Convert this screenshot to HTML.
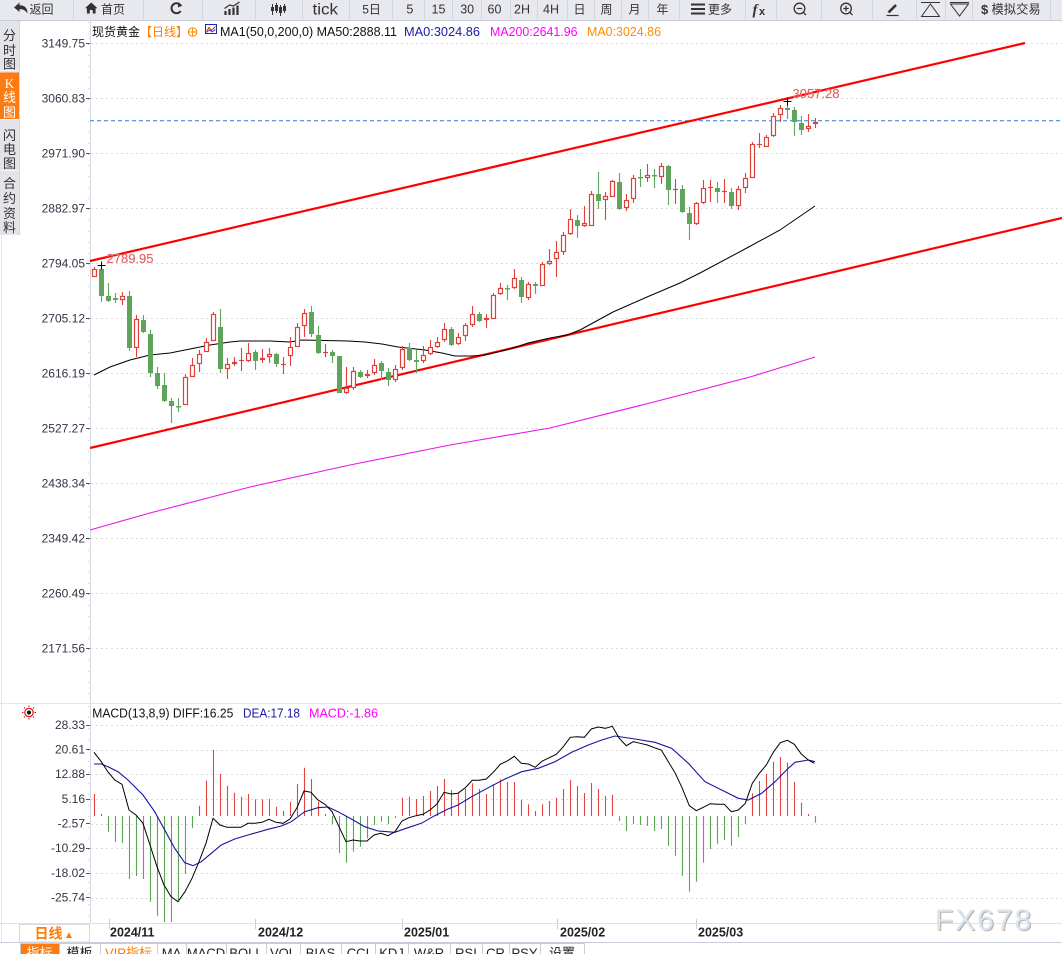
<!DOCTYPE html>
<html><head><meta charset="utf-8">
<style>
html,body{margin:0;padding:0;background:#fff;}
body{width:1062px;height:954px;overflow:hidden;position:relative;}
svg{position:absolute;left:0;top:0;}
</style></head><body>
<svg id="c" width="1062" height="954" viewBox="0 0 1062 954" font-family="'Liberation Sans','Noto Sans CJK SC',sans-serif">
<rect x="0" y="0" width="1062" height="954" fill="#fff"/>
<!-- toolbar -->
<rect x="0" y="0" width="1062" height="20.5" fill="#e8e9ee"/>
<line x1="0" y1="20.5" x2="1062" y2="20.5" stroke="#c9ccd4"/>
<g stroke="#d2d5dc" shape-rendering="crispEdges">
<line x1="73.5" y1="0" x2="73.5" y2="20"/><line x1="143.5" y1="0" x2="143.5" y2="20"/><line x1="202.5" y1="0" x2="202.5" y2="20"/><line x1="255.5" y1="0" x2="255.5" y2="20"/><line x1="302.5" y1="0" x2="302.5" y2="20"/><line x1="349.5" y1="0" x2="349.5" y2="20"/><line x1="392.5" y1="0" x2="392.5" y2="20"/><line x1="424.5" y1="0" x2="424.5" y2="20"/><line x1="452.5" y1="0" x2="452.5" y2="20"/><line x1="481.5" y1="0" x2="481.5" y2="20"/><line x1="510.5" y1="0" x2="510.5" y2="20"/><line x1="537.5" y1="0" x2="537.5" y2="20"/><line x1="567.5" y1="0" x2="567.5" y2="20"/><line x1="594.5" y1="0" x2="594.5" y2="20"/><line x1="621.5" y1="0" x2="621.5" y2="20"/><line x1="648.5" y1="0" x2="648.5" y2="20"/><line x1="679.5" y1="0" x2="679.5" y2="20"/><line x1="745.5" y1="0" x2="745.5" y2="20"/><line x1="776.5" y1="0" x2="776.5" y2="20"/><line x1="821.5" y1="0" x2="821.5" y2="20"/><line x1="872.5" y1="0" x2="872.5" y2="20"/><line x1="916.5" y1="0" x2="916.5" y2="20"/><line x1="945.5" y1="0" x2="945.5" y2="20"/><line x1="972.5" y1="0" x2="972.5" y2="20"/><line x1="1050.5" y1="0" x2="1050.5" y2="20"/>
</g>
<g fill="#333" font-size="12.5">
<path d="M14 7.5 L19.5 2.5 V5.2 Q27.5 5.2 27.5 13.5 Q24.5 8.8 19.5 9.2 V12 Z" fill="#333"/>
<text x="29.5" y="13.5" font-size="12">返回</text>
<path d="M91.2 2.5 L97.5 8.3 H95.6 V13.5 H92.7 V10 H89.8 V13.5 H86.9 V8.3 H85 Z" fill="#333"/>
<text x="101" y="13.5" font-size="12">首页</text>
<text x="325.3" y="14.5" font-size="16" text-anchor="middle" textLength="25.5" lengthAdjust="spacingAndGlyphs">tick</text>
<text x="371.6" y="13.5" text-anchor="middle" font-size="12">5日</text>
<text x="409.8" y="13.5" text-anchor="middle">5</text>
<text x="438.5" y="13.5" text-anchor="middle">15</text>
<text x="467.2" y="13.5" text-anchor="middle">30</text>
<text x="494.5" y="13.5" text-anchor="middle">60</text>
<text x="522" y="13.5" text-anchor="middle">2H</text>
<text x="551" y="13.5" text-anchor="middle">4H</text>
<text x="579.5" y="13.5" text-anchor="middle" font-size="12">日</text>
<text x="606.5" y="13.5" text-anchor="middle" font-size="12">周</text>
<text x="634.5" y="13.5" text-anchor="middle" font-size="12">月</text>
<text x="662.5" y="13.5" text-anchor="middle" font-size="12">年</text>
<rect x="691" y="3.5" width="14" height="2" fill="#333"/><rect x="691" y="8" width="14" height="2" fill="#333"/><rect x="691" y="12.5" width="14" height="2" fill="#333"/>
<text x="708" y="13.5" font-size="12">更多</text>
<text x="752.5" y="14.5" font-size="15" font-weight="bold" font-style="italic" font-family="'Liberation Serif',serif">f</text>
<text x="759" y="15" font-size="11" font-weight="bold">x</text>
<text x="981" y="14" font-size="13" font-weight="bold">$</text>
<text x="991.5" y="13.5" font-size="12.3">模拟交易</text>
</g>
<!-- toolbar icons -->
<g fill="none" stroke="#333">
<path d="M180.5 5.2 A5 5 0 1 0 180.7 11" stroke-width="2"/>
<path d="M178 2.5 L182.5 5.5 L178 7.5 Z" fill="#333" stroke="none"/>
<path d="M225.5 15V11M229.5 15V9M233.5 15V7.5M237.5 15V5.5" stroke-width="2.2"/>
<path d="M224.5 8.5 L229.5 5 L233.5 6 L239.5 2" stroke-width="1.2"/>
<path d="M272.5 4V15M276.5 3V13M280.5 5V16M284.5 4V13" stroke-width="1"/>
<rect x="271" y="7" width="3" height="4" fill="#333" stroke="none"/><rect x="275" y="5" width="3" height="6" fill="#333" stroke="none"/><rect x="279" y="7" width="3" height="6" fill="#333" stroke="none"/><rect x="283" y="6" width="3" height="5" fill="#333" stroke="none"/>
<circle cx="799.5" cy="8.5" r="5.3" stroke-width="1.3"/><path d="M796.8 8.5H802.2M803.3 12.3L806 15" stroke-width="1.3"/>
<circle cx="846" cy="8.5" r="5.3" stroke-width="1.3"/><path d="M843.3 8.5H848.7M846 5.8V11.2M849.8 12.3L852.5 15" stroke-width="1.3"/>
<path d="M888.5 12.5L896 5" stroke-width="2.6"/><path d="M886.5 15.5H898.5" stroke-width="1.2"/>
<path d="M921 2.5H940M930.4 4 L921.5 16.5 H939.5 Z" stroke-width="1"/>
<path d="M950 2.5H969M950.5 4 H968.5 L959.5 16 Z" stroke-width="1"/>
</g>
<!-- sidebar -->
<rect x="0" y="21" width="19" height="214" fill="#e2e4ea"/>
<rect x="0" y="72.5" width="19" height="46.5" fill="#fb7b14"/>
<g stroke="#f4f5f8"><line x1="0" y1="70.5" x2="19" y2="70.5"/><line x1="0" y1="119.5" x2="19" y2="119.5"/><line x1="0" y1="170.5" x2="19" y2="170.5"/></g>
<line x1="19.5" y1="21" x2="19.5" y2="235" stroke="#d3d6dd"/>
<line x1="1.5" y1="235" x2="1.5" y2="942" stroke="#e3e5ea"/>
<g font-size="13" text-anchor="middle" fill="#333">
<text x="9.5" y="39.8">分</text><text x="9.5" y="54.8">时</text><text x="9.5" y="68.3">图</text>
<text x="9.5" y="87.8" fill="#fff" font-family="'Liberation Serif',serif">K</text><text x="9.5" y="101.8" fill="#fff">线</text><text x="9.5" y="116.8" fill="#fff">图</text>
<text x="9.5" y="139.8">闪</text><text x="9.5" y="153.8">电</text><text x="9.5" y="167.8">图</text>
<text x="9.5" y="187.8">合</text><text x="9.5" y="202.8">约</text><text x="9.5" y="217.8">资</text><text x="9.5" y="231.8">料</text>
</g>
<!-- legend -->
<text x="92" y="36" font-size="12" fill="#111">现货黄金</text>
<text x="140" y="36" font-size="12" fill="#ff7f00">【日线】</text>
<circle cx="192.6" cy="32" r="4.3" fill="none" stroke="#ff8a00" stroke-width="1"/>
<path d="M188.3 32H196.9M192.6 27.7V36.3" stroke="#ff8a00" stroke-width="1"/>
<rect x="205.5" y="24.5" width="11" height="9" fill="#fff" stroke="#1a2aa8"/>
<path d="M206.5 31.5L209 27.5L211.5 30.5L215.5 26.5" stroke="#e02020" fill="none" stroke-width="1"/>
<path d="M206.5 32.5L209.5 30L212 32L215.5 29.5" stroke="#1a2aa8" fill="none" stroke-width="0.8"/>
<g font-size="12.5">
<text x="220" y="36" fill="#111" textLength="177" lengthAdjust="spacingAndGlyphs">MA1(50,0,200,0) MA50:2888.11</text>
<text x="404" y="36" fill="#1a1aa8" textLength="76" lengthAdjust="spacingAndGlyphs">MA0:3024.86</text>
<text x="490" y="36" fill="#ff00ff" textLength="87.5" lengthAdjust="spacingAndGlyphs">MA200:2641.96</text>
<text x="587" y="36" fill="#ff8c00" textLength="74" lengthAdjust="spacingAndGlyphs">MA0:3024.86</text>
</g>
<!-- grids -->
<g id="grid" stroke="#dcdcdc" stroke-dasharray="2 3" shape-rendering="crispEdges"></g>
<!-- axis -->
<line x1="90.5" y1="21" x2="90.5" y2="923" stroke="#d3d7df" shape-rendering="crispEdges"/>
<line x1="88.5" y1="22" x2="88.5" y2="700" stroke="#c8ccd4" stroke-dasharray="1 10" shape-rendering="crispEdges"/>
<line x1="88.5" y1="706" x2="88.5" y2="920" stroke="#c8ccd4" stroke-dasharray="1 10" shape-rendering="crispEdges"/>
<line x1="0" y1="703.5" x2="1062" y2="703.5" stroke="#e3e6eb" shape-rendering="crispEdges"/>
<g id="ylab" font-size="12" fill="#2f3645" text-anchor="end"></g>
<!-- blue dashed line -->
<line x1="90" y1="120.7" x2="1062" y2="120.7" stroke="#2a7bd8" stroke-dasharray="4 3" stroke-width="1"/>
<!-- MA200 -->
<polyline fill="none" stroke="#e818e8" stroke-width="1.1" points="90,530 150,513 250,487 350,465 450,445 550,428 650,403 750,377 815,357"/>
<!-- channel -->
<line x1="90" y1="261" x2="1025" y2="43" stroke="#ff0000" stroke-width="2.2"/>
<line x1="90" y1="448" x2="1062" y2="218" stroke="#ff0000" stroke-width="2.2"/>
<!-- MA50 -->
<polyline fill="none" stroke="#000" stroke-width="1" points="94,375 110,367 130,360 150,355 170,353 190,349 210,345 230,342 240,341 270,341 290,342 302,340 348,341 365,342 382,344 398,347 425,350 442,353 455,356 472,356 485,355 510,349 528,343 550,338 567,335 580,330 613,312 647,297 680,283 700,273 745,249 780,230 815,206"/>
<g id="candles"></g>
<!-- markers -->
<path d="M97.5 265.5H105.5M101.5 261.5V269.5M783.5 101.5H791.5M787.5 97.5V105.5" stroke="#000" stroke-width="1"/>
<text x="106.5" y="262.8" font-size="13" fill="#e24848" stroke="#f3a0a0" stroke-width="0.3">2789.95</text>
<text x="792.5" y="97.8" font-size="13" fill="#e24848" stroke="#f3a0a0" stroke-width="0.3">3057.28</text>
<!-- MACD -->
<g transform="translate(29,712.5)">
<circle r="4.2" fill="#fff" stroke="#e01010" stroke-width="1.2"/>
<circle r="2.1" fill="#111"/>
<path d="M0 -7V-5.5M0 5.5V7M-7 0H-5.5M5.5 0H7M-5 -5L-4 -4M4 4L5 5M-5 5L-4 4M4 -4L5 -5" stroke="#e01010" stroke-width="1"/>
</g>
<g font-size="12.5">
<text x="92.3" y="717.5" fill="#111" textLength="141" lengthAdjust="spacingAndGlyphs">MACD(13,8,9) DIFF:16.25</text>
<text x="243" y="717.5" fill="#1a1aa0" textLength="57" lengthAdjust="spacingAndGlyphs">DEA:17.18</text>
<text x="309" y="717.5" fill="#ff00ff" textLength="69" lengthAdjust="spacingAndGlyphs">MACD:-1.86</text>
</g>
<g id="macd"></g>
<!-- date row -->
<line x1="0" y1="923.5" x2="1062" y2="923.5" stroke="#dde1e8" shape-rendering="crispEdges"/>
<line x1="0" y1="942.5" x2="1062" y2="942.5" stroke="#c7cedb" shape-rendering="crispEdges"/>
<g stroke="#c8ccd4" shape-rendering="crispEdges">
<path d="M109.5 924V929M255.5 924V929M402.5 924V929M557.5 924V929M696.5 924V929M109.5 919V923M255.5 919V923M402.5 919V923M557.5 919V923M696.5 919V923"/>
</g>
<g font-size="12.5" font-weight="bold" fill="#222">
<text x="110" y="936.5">2024/11</text>
<text x="258" y="936.5">2024/12</text>
<text x="404" y="936.5">2025/01</text>
<text x="560" y="936.5">2025/02</text>
<text x="698" y="936.5">2025/03</text>
</g>
<rect x="19.5" y="924.5" width="70" height="17.5" fill="#fff" stroke="#d6d9df"/>
<text x="34.5" y="938.5" font-size="14" font-weight="bold" fill="#ff7a00">日线</text>
<text x="64" y="938" font-size="10" fill="#ff7a00">▲</text>
<!-- watermark -->
<text x="936" y="931" font-size="30" fill="#bdb4ab" letter-spacing="2">FX678</text>
<text x="934.8" y="929.8" font-size="30" fill="#d8e4f2" letter-spacing="2">FX678</text>
<!-- bottom tabs -->
<g id="tabs" font-size="13" text-anchor="middle"></g>
</svg>
<script>
(function(){
function g(id){return document.getElementById(id);}
var s='';
for(var k=0;k<12;k++){var y=Math.round(43.3+55*k)+0.5; s+='<line x1="91" y1="'+y+'" x2="1062" y2="'+y+'"/>';}
for(var k=0;k<8;k++){var y=Math.round(725+24.67*k)+0.5; s+='<line x1="91" y1="'+y+'" x2="1062" y2="'+y+'"/>';}
g('grid').innerHTML=s;
var L=["3149.75","3060.83","2971.90","2882.97","2794.05","2705.12","2616.19","2527.27","2438.34","2349.42","2260.49","2171.56"];
var M=["28.33","20.61","12.88","5.16","-2.57","-10.29","-18.02","-25.74"];
s='';
for(var k=0;k<12;k++){var y=43.3+55*k; s+='<text x="85" y="'+(y+4.3).toFixed(1)+'">'+L[k]+'</text><line x1="86" y1="'+(Math.round(y)+0.5)+'" x2="90" y2="'+(Math.round(y)+0.5)+'" stroke="#555"/>';}
for(var k=0;k<8;k++){var y=724.5+24.67*k; s+='<text x="85" y="'+(y+4.3).toFixed(1)+'">'+M[k]+'</text><line x1="86" y1="'+(Math.round(y)+0.5)+'" x2="90" y2="'+(Math.round(y)+0.5)+'" stroke="#555"/>';}
g('ylab').innerHTML=s;
var C=[['r',269,277,267,277],['g',269,296,265,302],['g',296,301,283,302],['g',298,300,293,303],['r',296,300,292,305],['g',296,348,291,351],['r',319,348,315,357],['g',320,332,315,333],['g',334,373,330,377],['g',373,386,367,389],
['g',385,401,373,402],['g',401,406,398,423],['g',406,407,398,412],['r',377,405,374,405],['r',365,377,358,377],['r',354,364,350,372],['r',342,352,338,352],['r',314,341,312,341],['g',327,369,309,373],['r',364,369,358,379],
['r',362,364,357,366],['r',360,361,348,371],['r',353,361,343,362],['g',352,361,350,370],['r',358,360,349,363],['r',354,357,348,363],['g',354,364,353,367],['r',364,365,357,374],['r',347,356,337,366],['r',327,347,323,347],
['r',313,326,309,337],['g',312,334,306,337],['g',335,353,326,354],['r',352,353,344,357],['g',352,356,350,363],['g',356,393,356,393],['r',388,393,367,394],['r',371,388,367,390],['g',372,377,370,378],['r',374,376,370,378],
['r',365,373,359,375],['g',363,371,361,380],['g',372,380,368,386],['r',369,380,365,382],['r',349,368,346,370],['g',348,360,343,361],['g',360,362,350,373],['r',355,361,346,363],['r',347,354,340,355],['r',342,347,337,348],
['r',329,340,323,342],['g',329,345,327,346],['r',337,344,333,345],['r',325,336,323,341],['r',314,325,306,327],['g',314,321,312,322],['r',318,320,314,328],['r',295,319,293,319],['r',288,294,283,295],['g',288,289,285,300],
['r',278,288,269,289],['g',280,297,277,303],['r',284,298,282,300],['g',284,286,282,294],['r',264,286,262,286],['r',261,264,249,265],['r',252,259,241,277],['r',235,252,232,255],['r',219,234,209,235],['g',220,226,215,238],
['r',223,226,206,227],['r',194,226,191,226],['g',194,201,172,209],['r',196,200,192,220],['r',181,197,180,197],['g',182,209,173,210],['r',200,208,194,211],['r',178,199,175,203],['g',177,178,169,187],['r',175,178,164,182],
['g',175,176,169,188],['r',166,177,163,184],['g',166,190,165,205],['r',189,190,179,204],['g',189,212,185,213],['g',213,224,207,240],['r',203,224,202,225],['r',188,203,180,204],['r',187,188,180,202],['g',188,192,182,203],
['r',191,192,179,203],['g',192,206,188,209],['r',189,206,186,210],['r',178,188,173,193],['r',144,178,142,178],['r',144,145,133,148],['r',137,147,135,147],['r',116,136,113,137],['r',108,115,105,122],['g',108,110,100,119],
['g',110,122,107,136],['g',123,130,116,135],['r',126,129,114,132],['r',122,124,118,128]];
var RC='#e0403a',GC='#5ea55b';
var rw='',gw='',gb='',rb='';
for(var i=0;i<C.length;i++){
 var c=C[i],x=94.5+7*i,bt=c[1],bb=c[2],wt=c[3],wb=c[4];
 if(c[0]=='r'){
  rw+='M'+x+' '+wt+'V'+wb;
  if(bb-bt<=1.5){rb+='<line x1="'+(x-2.5)+'" y1="'+(bt+0.5)+'" x2="'+(x+2.5)+'" y2="'+(bt+0.5)+'" stroke="'+RC+'" stroke-width="1.2"/>';}
  else rb+='<rect x="'+(x-2)+'" y="'+(bt+0.5)+'" width="4" height="'+(bb-bt-1)+'" fill="#fff" stroke="'+RC+'" stroke-width="1.2"/>';
 } else {
  gw+='M'+x+' '+wt+'V'+wb;
  gb+='M'+(x-2.5)+' '+bt+'h5v'+Math.max(bb-bt,1.5)+'h-5z';
 }
}
g('candles').innerHTML='<path d="'+rw+'" stroke="'+RC+'" stroke-width="1.1" fill="none"/><path d="'+gw+'" stroke="'+GC+'" stroke-width="1.1" fill="none"/><path d="'+gb+'" fill="'+GC+'"/>'+rb;
var H=[794,814,831.7,841.7,843,879,876,879,901.7,915.7,922,921.7,900,874,828,805.7,780.7,750,774,785.7,792.7,796.7,794,799.3,799.3,799,806.7,811,801.7,784,767.7,779,801.7,814,824.3,853.3,862.7,851.7,846.7,838.3,825,821.7,824.3,818,797.7,796.7,799,796,791,786,779,790,793.3,789,783.3,789,794,784.3,779.3,782,782,800,804.3,811,804.3,801,797.7,789,780,786,793,783,789,796,795,821,831,824,825,826,831,829,845.7,855.7,875.7,891.7,881.7,862.7,849,843.7,840,845.7,837,824,793.3,781,774,761.7,757,762.7,781.7,802.7,814,822.7];
var Z=816,hr='',hg='';
for(var i=0;i<H.length;i++){var x=94.5+7*i; if(H[i]<Z) hr+='M'+x+' '+Z+'V'+H[i]; else hg+='M'+x+' '+Z+'V'+H[i];}
var DIFF=[[94,752.3],[101.3,761.7],[108,772],[114.7,780],[122,784.3],[129,810],[136,815],[143,823.3],[150,845],[157,866.7],[164,885],[171,896.7],[178,901.7],[185,891.7],[192,878.3],[199,861.7],[206,843.3],[213,818.3],[220,825],[227,827.3],[234,827.3],[241,827.3],[248,823.3],[255,823.3],[262,822.3],[269,819.3],[276,822.3],[283,823.3],[290,819],[297,807.7],[304,791],[311,792.3],[318,800],[325,804.3],[332,811.7],[339,826.7],[346,841.7],[353,840],[360,841],[367,841],[374,835],[381,833.3],[388,835.7],[395,831.7],[402,821],[409,817.7],[416,815.7],[423,814.3],[430,810],[437,804],[444,792.3],[451,794],[458,793.3],[465.3,787.7],[472.3,780.3],[479.3,780.3],[486.3,779],[493.3,772.3],[500.3,764.3],[507.3,761],[514.3,756.3],[521.3,763.3],[528.3,764],[535.3,767.3],[542.3,761],[549.3,757.7],[556.3,754.3],[563.3,746.7],[570.3,737.3],[577.3,736.7],[584.3,737.3],[591.3,729],[598.3,727],[605.3,728.3],[612.3,726.3],[619.3,738.3],[626.3,745.7],[633.3,741.7],[640.3,743.3],[647.3,745],[654.3,747.7],[661.3,750],[668.3,761.7],[675.3,773.3],[682.3,788.3],[689.3,805.7],[696.3,810.7],[703.3,807.3],[710.3,803.7],[717.3,804.3],[724.3,804.3],[731.3,811.7],[738.3,810],[745.3,803.3],[752.3,783.3],[759.3,773.3],[766.3,765],[773.3,752.3],[780.3,742.7],[787.3,740.3],[794.3,744.3],[801.3,754],[808.3,760],[814.3,763.3]];
var DEA=[[94,764],[101.3,764],[108,766.7],[118,771.7],[128,780],[143,795],[154.7,811.7],[164.7,830],[174.7,848.3],[184.7,862.7],[193,865.7],[201.3,861.7],[211.3,853.3],[221.3,845],[234.7,839],[248,835],[268,829.3],[281.3,826],[291.3,821.7],[304.7,811.7],[318,807.7],[328,807],[338,811.7],[351.3,819],[364.7,826.7],[378,831],[394.7,832.3],[408,827.7],[421.3,823.3],[434.7,815.7],[448,809],[458,805],[471.7,796.7],[488.3,787.7],[505,779],[521.7,771.7],[538.3,768.3],[555,761.7],[571.7,752.3],[588.3,745],[601.7,740],[615,736],[635,739],[655,742.3],[671.7,748.3],[688.3,763.3],[705,781.7],[721.7,790],[738.3,798.3],[748.3,800],[761.7,793.3],[775,781.7],[788.3,768.3],[795,762.3],[808.3,760],[815,761.7]];
function pts(a){return a.map(function(p){return p[0]+','+p[1];}).join(' ');}
g('macd').innerHTML='<path d="'+hr+'" stroke="#e2453f" stroke-width="1.1" fill="none"/><path d="'+hg+'" stroke="#5aa655" stroke-width="1.1" fill="none"/>'+
'<polyline points="'+pts(DEA)+'" fill="none" stroke="#1515a0" stroke-width="1.1"/>'+
'<polyline points="'+pts(DIFF)+'" fill="none" stroke="#000" stroke-width="1"/>';
var T=[[20,59,'指标','o'],[59,100,'模板',''],[100,157,'VIP指标','v'],[157,186,'MA',''],[186,226,'MACD',''],[226,266,'BOLL',''],[266,300,'VOL',''],[300,341,'BIAS',''],[341,375,'CCI',''],[375,408,'KDJ',''],[408,450,'W&amp;R',''],[450,482,'RSI',''],[482,509,'CR',''],[509,540,'PSY',''],[540,584,'设置','']];
s='';
for(var i=0;i<T.length;i++){var t=T[i];
 s+='<rect x="'+(t[0]+0.5)+'" y="943.5" width="'+(t[1]-t[0])+'" height="14" fill="'+(t[3]=='o'?'#fb7b14':'#fff')+'" stroke="#c9ccd3"/>';
 s+='<text x="'+((t[0]+t[1])/2)+'" y="957.5" fill="'+(t[3]=='o'?'#fff':(t[3]=='v'?'#ff7a00':'#222'))+'">'+t[2]+'</text>';}
g('tabs').innerHTML=s;
})();
</script>
</body></html>
